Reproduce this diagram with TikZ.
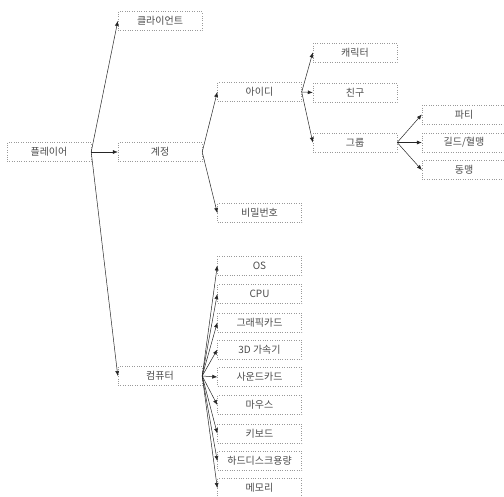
\documentclass[tikz,border=0pt]{standalone}
\usepackage{fontspec}
\newfontfamily\kr{Noto Sans CJK KR}
\usetikzlibrary{arrows.meta}
\begin{document}
\begin{tikzpicture}[x=1pt,y=1pt,
  box/.style={draw=gray!80, dotted, minimum width=84pt, minimum height=19pt, inner sep=0pt,
    font=\kr\fontsize{10}{11}\selectfont, text=black!70},
  conn/.style={draw=black!85, line width=0.5pt, -{Latex[length=5pt,width=4pt]}}]
\useasboundingbox (0,0) rectangle (504,496);
% level 0
\node[box] (player) at (49,344) {플레이어};
% level 1
\node[box] (client) at (160,475) {클라이언트};
\node[box] (account) at (160,344) {계정};
\node[box] (computer) at (160,120) {컴퓨터};
% level 2
\node[box] (id) at (259.5,404) {아이디};
\node[box] (pw) at (259.5,283) {비밀번호};
\node[box] (os) at (259.5,230.5) {OS};
\node[box] (cpu) at (259.5,202) {CPU};
\node[box] (gpu) at (259.5,173.5) {그래픽카드};
\node[box] (acc) at (259.5,146.5) {3D 가속기};
\node[box] (snd) at (259.5,119) {사운드카드};
\node[box] (mouse) at (259.5,91) {마우스};
\node[box] (kbd) at (259.5,62.5) {키보드};
\node[box] (hdd) at (259.5,35) {하드디스크용량};
\node[box] (mem) at (259.5,8) {메모리};
% level 3
\node[box] (char) at (355,443.5) {캐릭터};
\node[box] (friend) at (355,403.5) {친구};
\node[box] (group) at (355,353.5) {그룹};
% level 4
\node[box] (party) at (464,381.5) {파티};
\node[box] (guild) at (464,353.5) {길드/혈맹};
\node[box] (ally) at (464,326) {동맹};
% connectors
\foreach \t in {client,account,computer}
  \draw[conn] (player.east) -- (\t.west);
\foreach \t in {id,pw}
  \draw[conn] (account.east) -- (\t.west);
\foreach \t in {os,cpu,gpu,acc,snd,mouse,kbd,hdd,mem}
  \draw[conn] (computer.east) -- (\t.west);
\foreach \t in {char,friend,group}
  \draw[conn] (id.east) -- (\t.west);
\foreach \t in {party,guild,ally}
  \draw[conn] (group.east) -- (\t.west);
\end{tikzpicture}
\end{document}
